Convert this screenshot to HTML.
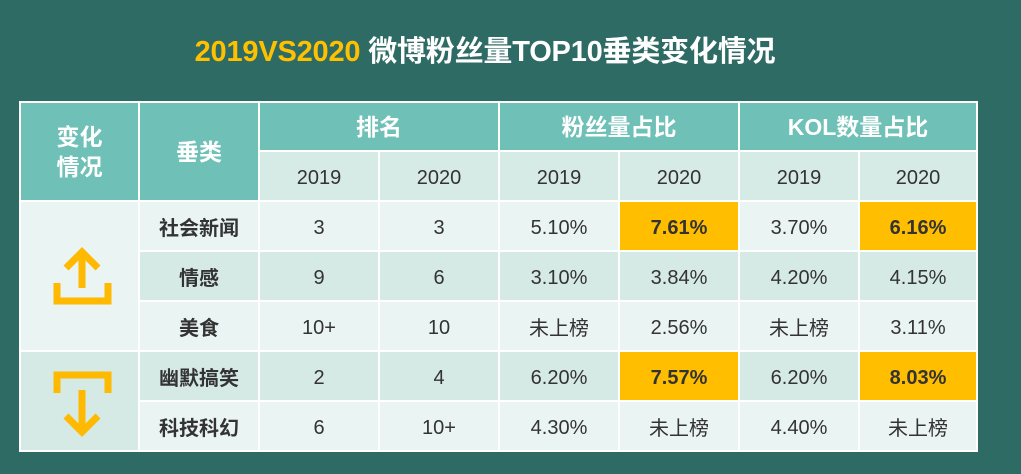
<!DOCTYPE html>
<html><head><meta charset="utf-8"><style>
body{margin:0;width:1021px;height:474px;background:#2e6b64;position:relative;overflow:hidden;font-family:"Liberation Sans","Noto Sans CJK SC",sans-serif}
.t{position:absolute;top:28px;left:0;width:970px;text-align:center;font-size:29px;font-weight:bold;color:#fff;letter-spacing:-0.2px}
.t span{color:#ffc000}
#frame{position:absolute;left:19px;top:101px;width:959px;height:351px;background:#fff}
.c{position:absolute;box-sizing:border-box;display:flex;align-items:center;justify-content:center;font-size:20px;color:#333;border-right:2px solid #fff;border-bottom:2px solid #fff;padding-top:5px}
.h{background:#6fc0b6;color:#fff;font-weight:bold;font-size:23px;line-height:30px;text-align:center;padding-top:0}
.s{background:#d6eae6}
.l{background:#eaf4f2}.m{background:#d5e9e5}
.b{font-weight:bold;padding-top:0}
.y{background:#ffbe00;font-weight:bold}
.z{padding-top:1px}
</style></head><body>
<div class="t"><span>2019VS2020</span> 微博粉丝量TOP10垂类变化情况</div>
<div id="frame"></div>
<div id="tbl"></div>
<svg style="position:absolute;left:0;top:0" width="1021" height="474">
<g fill="none" stroke="#ffb900" stroke-width="7">
<path d="M82 288 V256 M66 268 L82 252 L98 268"/>
<path d="M57 283 V301 H108 V283"/>
</g>
<g fill="none" stroke="#ffb900" stroke-width="7">
<path d="M57 393 V375 H108 V393"/>
<path d="M82 390 V428 M66 416 L82 432 L98 416"/>
</g>
</svg>
<script>
const cols=[21,140,260,380,500,620,740,860,978];
const rows=[103,152,202,252,302,352,402,452];
const categories=["社会新闻","情感","美食","幽默搞笑","科技科幻"];
const rank2019=["3","9","10+","2","6"];
const rank2020=["3","6","10","4","10+"];
const fans2019=["5.10%","3.10%","未上榜","6.20%","4.30%"];
const fans2020=["7.61%","3.84%","2.56%","7.57%","未上榜"];
const kol2019=["3.70%","4.20%","未上榜","6.20%","4.40%"];
const kol2020=["6.16%","4.15%","3.11%","8.03%","未上榜"];
const hiFans=[true,false,false,true,false];
const hiKol=[true,false,false,true,false];
const tbl=document.getElementById('tbl');
function cell(c0,c1,r0,r1,txt,cls,name){
 const d=document.createElement('div');
 d.className='c '+cls+(/[\u4e00-\u9fff]/.test(txt)?' z':'');
 d.style.left=cols[c0]+'px';d.style.width=(cols[c1]-cols[c0])+'px';
 d.style.top=rows[r0]+'px';d.style.height=(rows[r1]-rows[r0])+'px';
 d.innerHTML=txt;
 
 
 tbl.appendChild(d);return d;
}
cell(0,1,0,2,'变化<br>情况','h','header-change');
cell(1,2,0,2,'垂类','h','header-category');
cell(2,4,0,1,'排名','h','header-rank');
cell(4,6,0,1,'粉丝量占比','h','header-fans-share');
cell(6,8,0,1,'KOL数量占比','h','header-kol-share');
for(let i=0;i<6;i++){cell(2+i,3+i,1,2,i%2?'2020':'2019','s','year-header');}
cell(0,1,2,5,'','l','change-up-cell');
cell(0,1,5,7,'','m','change-down-cell');
const bg=['l','m','l','m','l'];
categories.forEach((cat,i)=>{
 const r=2+i,b=bg[i];
 cell(1,2,r,r+1,cat,b+' b','category-'+i);
 cell(2,3,r,r+1,rank2019[i],b,'rank-2019');
 cell(3,4,r,r+1,rank2020[i],b,'rank-2020');
 cell(4,5,r,r+1,fans2019[i],b,'fans-2019');
 cell(5,6,r,r+1,fans2020[i],hiFans[i]?'y':b,'fans-2020');
 cell(6,7,r,r+1,kol2019[i],b,'kol-2019');
 cell(7,8,r,r+1,kol2020[i],hiKol[i]?'y':b,'kol-2020');
});
</script>
</body></html>
